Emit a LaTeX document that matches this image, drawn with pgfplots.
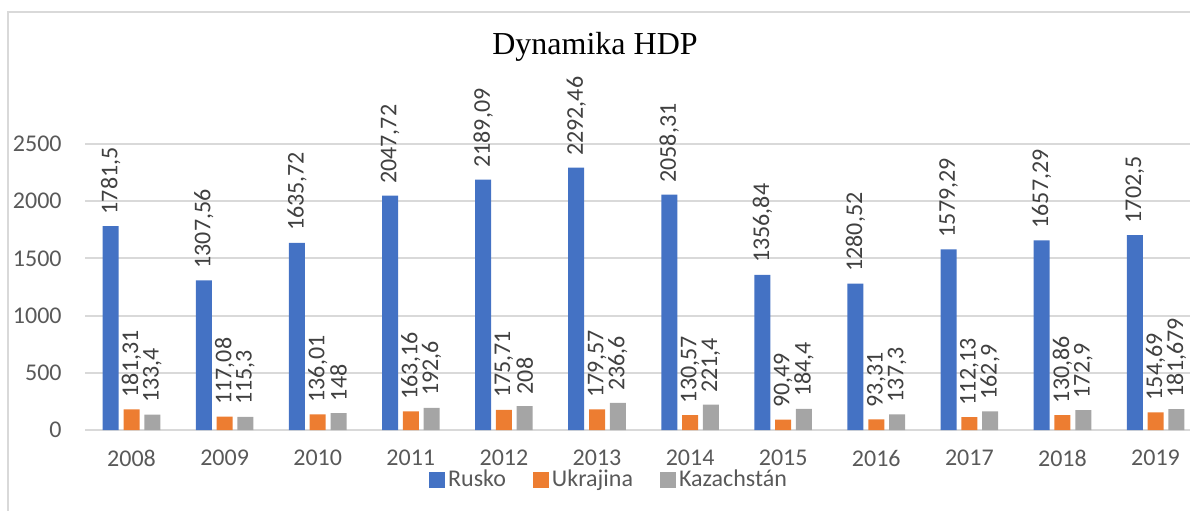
\documentclass[border=0pt]{standalone}
\usepackage{fontspec}
\setmainfont{Carlito}
\newfontfamily\titlefont{Liberation Serif}
\usepackage{pgfplots}
\pgfplotsset{compat=1.18}
\definecolor{cRu}{HTML}{4472C4}
\definecolor{cUa}{HTML}{ED7D31}
\definecolor{cKz}{HTML}{A5A5A5}
\definecolor{cGrid}{HTML}{D9D9D9}
\definecolor{cTick}{HTML}{595959}
\definecolor{cLab}{HTML}{404040}
\begin{document}
\begin{tikzpicture}
\path[use as bounding box] (0pt,0pt) rectangle (595pt,255pt);
\clip (0pt,0pt) rectangle (595pt,255pt);
\draw[cGrid, line width=1.2pt] (4pt,249pt) rectangle (607pt,-10pt);
\node[font=\titlefont\fontsize{16}{18}\selectfont, text=black, anchor=base, inner sep=0pt] at (297.5pt,227.5pt) {Dynamika HDP};
\begin{axis}[
  at={(42.5pt,40pt)}, anchor=south west,
  scale only axis,
  width=552.5pt, height=143pt,
  xmin=-0.5, xmax=11.37,
  ymin=0, ymax=2500,
  clip=false,
  axis line style={draw=none},
  major tick length=0pt,
  ytick={0,500,1000,1500,2000,2500},
  xtick={0,...,11},
  xticklabels={2008,2009,2010,2011,2012,2013,2014,2015,2016,2017,2018,2019},
  ymajorgrids, major grid style={cGrid, line width=1pt},
  /pgf/number format/assume math mode=true,
  /pgf/number format/1000 sep={},
  scaled y ticks=false,
  tick label style={font=\fontsize{12}{14}\selectfont, text=cTick},
  yticklabel style={anchor=east, inner sep=0pt, xshift=-11.5pt, /pgf/number format/1000 sep={}},
  xticklabel style={anchor=north, inner sep=0pt, yshift=-10pt},
  ybar=2.4pt, bar width=8pt,
  nodes near coords,
  nodes near coords style={font=\fontsize{12}{14}\selectfont, text=cLab, rotate=90, anchor=west, inner ysep=0pt, inner xsep=5.8pt,
     /pgf/number format/fixed, /pgf/number format/precision=3, /pgf/number format/use comma, /pgf/number format/1000 sep={}},
  legend columns=-1,
  legend style={at={(0.4747,-0.175)}, anchor=center, draw=none, fill=none,
    font=\fontsize{12}{14}\selectfont, text=cTick,
    nodes={inner xsep=1.5pt, inner ysep=0pt},
    /tikz/every even column/.append style={column sep=12pt}},
  legend image code/.code={\path[#1,draw=none] (0pt,-4pt) rectangle (8pt,4pt);},
]
\addplot[fill=cRu, draw=none] coordinates {(0,1781.5) (1,1307.56) (2,1635.72) (3,2047.72) (4,2189.09) (5,2292.46) (6,2058.31) (7,1356.84) (8,1280.52) (9,1579.29) (10,1657.29) (11,1702.5)};
\addplot[fill=cUa, draw=none] coordinates {(0,181.31) (1,117.08) (2,136.01) (3,163.16) (4,175.71) (5,179.57) (6,130.57) (7,90.49) (8,93.31) (9,112.13) (10,130.86) (11,154.69)};
\addplot[fill=cKz, draw=none] coordinates {(0,133.4) (1,115.3) (2,148) (3,192.6) (4,208) (5,236.6) (6,221.4) (7,184.4) (8,137.3) (9,162.9) (10,172.9) (11,181.679)};
\legend{Rusko, Ukrajina, Kazachstán}
\end{axis}
\end{tikzpicture}
\end{document}
